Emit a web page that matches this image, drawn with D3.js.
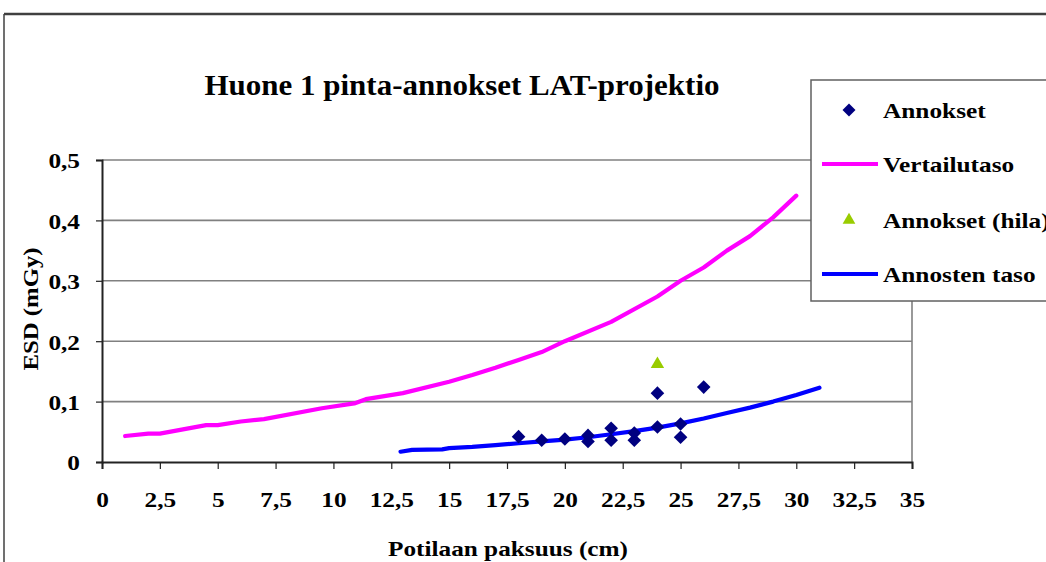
<!DOCTYPE html>
<html>
<head>
<meta charset="utf-8">
<script src="https://cdn.jsdelivr.net/npm/d3@7"></script>
<style>
  html, body { margin: 0; padding: 0; background: #fff; }
  svg { display: block; }
  svg text { font-family: "Liberation Serif", "Times New Roman", serif; font-weight: bold; fill: #000; }
</style>
</head>
<body>
<svg id="chart" width="1046" height="562"></svg>
<script>
// Axis ticks
const xTicks = [0, 2.5, 5, 7.5, 10, 12.5, 15, 17.5, 20, 22.5, 25, 27.5, 30, 32.5, 35];
const yTicks = [0, 0.1, 0.2, 0.3, 0.4, 0.5];

// Vertailutaso (reference level curve)
const vertailuX = [1, 2, 2.5, 4.5, 5, 6, 7, 9.5, 10.9, 11.4, 13, 15, 16, 17, 18, 19, 20, 22, 24, 25, 26, 27, 28, 29, 30];
const vertailuY = [0.043, 0.047, 0.047, 0.061, 0.061, 0.067, 0.071, 0.089, 0.097, 0.104, 0.114, 0.133, 0.144, 0.156, 0.169, 0.182, 0.2, 0.232, 0.274, 0.3, 0.322, 0.35, 0.374, 0.405, 0.441];

// Annosten taso (dose level curve)
const tasoX = [12.9, 13.4, 14.7, 15, 16, 17, 18, 19, 20, 21, 22, 23, 24, 25, 26, 27, 28, 29, 30, 31];
const tasoY = [0.017, 0.02, 0.021, 0.023, 0.025, 0.028, 0.031, 0.034, 0.037, 0.041, 0.046, 0.051, 0.057, 0.064, 0.072, 0.081, 0.09, 0.1, 0.111, 0.123];

// Annokset (measured doses)
const annoksetX = [18, 19, 20, 21, 21, 22, 22, 23, 23, 24, 24, 25, 25, 26];
const annoksetY = [0.042, 0.036, 0.038, 0.044, 0.034, 0.056, 0.036, 0.048, 0.036, 0.058, 0.114, 0.063, 0.041, 0.124];

// Annokset (hila) (doses with grid)
const hilaX = [24];
const hilaY = [0.162];

const legendLabels = ["Annokset", "Vertailutaso", "Annokset (hila)", "Annosten taso"];

const colors = {
  annokset: "#000080",
  vertailu: "#FF00FF",
  hila: "#99CC00",
  taso: "#0000FF",
  grid: "#808080",
  axis: "#222"
};

const FONT = "Liberation Serif, Times New Roman, serif";
const WIDEN = 1.15; // text is set slightly wide

const svg = d3.select("#chart");

const x = d3.scaleLinear().domain([0, 35]).range([102, 912]);
const y = d3.scaleLinear().domain([0, 0.5]).range([462, 160]);

const fmt = d => String(+d.toFixed(2)).replace(".", ",");

// Widen a text selection horizontally by a factor
function widen(sel, f) {
  sel.each(function () {
    const w = this.getComputedTextLength();
    d3.select(this).attr("textLength", w * f).attr("lengthAdjust", "spacingAndGlyphs");
  });
}

// Chart frame
svg.append("line").attr("x1", 4).attr("x2", 1046).attr("y1", 14).attr("y2", 14)
  .attr("stroke", "#404040").attr("stroke-width", 2.5);
svg.append("line").attr("x1", 4).attr("x2", 4).attr("y1", 14).attr("y2", 562)
  .attr("stroke", "#404040").attr("stroke-width", 1.5);

// Horizontal gridlines
svg.append("g")
  .selectAll("line")
  .data(yTicks.filter(v => v > 0))
  .join("line")
  .attr("x1", x(0)).attr("x2", x(35))
  .attr("y1", d => y(d)).attr("y2", d => y(d))
  .attr("stroke", colors.grid).attr("stroke-width", 1.6);

// Plot area right border
svg.append("line")
  .attr("x1", x(35)).attr("x2", x(35)).attr("y1", y(0.5)).attr("y2", y(0))
  .attr("stroke", colors.grid).attr("stroke-width", 1.6);

// X axis
const xAxis = d3.axisBottom(x).tickValues(xTicks).tickFormat(fmt).tickSize(7);
const gx = svg.append("g").attr("transform", `translate(0,${y(0)})`).call(xAxis);
gx.attr("font-family", FONT);
gx.select(".domain").attr("stroke", colors.axis).attr("stroke-width", 2);
gx.selectAll(".tick line").attr("stroke", colors.axis).attr("stroke-width", 1.2);
gx.selectAll(".tick text")
  .attr("y", 44.5).attr("dy", null)
  .attr("font-size", 22).attr("font-family", FONT).attr("font-weight", "bold")
  .attr("fill", "#000")
  .call(widen, WIDEN);

// Y axis
const yAxis = d3.axisLeft(y).tickValues(yTicks).tickFormat(fmt).tickSize(6).tickPadding(16);
const gy = svg.append("g").attr("transform", `translate(${x(0)},0)`).call(yAxis);
gy.attr("font-family", FONT);
gy.select(".domain").attr("stroke", colors.axis).attr("stroke-width", 2);
gy.selectAll(".tick line").attr("stroke", colors.axis).attr("stroke-width", 1.2);
gy.selectAll(".tick text")
  .attr("dy", "0.36em")
  .attr("font-size", 22).attr("font-family", FONT).attr("font-weight", "bold")
  .attr("fill", "#000")
  .call(widen, WIDEN);

// Lines
const lineGen = d3.line().x(d => x(d[0])).y(d => y(d[1]));

svg.append("path")
  .datum(vertailuX.map((v, i) => [v, vertailuY[i]]))
  .attr("d", lineGen)
  .attr("fill", "none").attr("stroke", colors.vertailu).attr("stroke-width", 4.2)
  .attr("stroke-linejoin", "round").attr("stroke-linecap", "round");

svg.append("path")
  .datum(tasoX.map((v, i) => [v, tasoY[i]]))
  .attr("d", lineGen)
  .attr("fill", "none").attr("stroke", colors.taso).attr("stroke-width", 4.2)
  .attr("stroke-linejoin", "round").attr("stroke-linecap", "round");

// Markers
const diamond = r => `M0,${-r}L${r},0L0,${r}L${-r},0Z`;

svg.append("g")
  .selectAll("path")
  .data(annoksetX.map((v, i) => [v, annoksetY[i]]))
  .join("path")
  .attr("transform", d => `translate(${x(d[0])},${y(d[1])})`)
  .attr("d", diamond(6.8))
  .attr("fill", colors.annokset);

svg.append("g")
  .selectAll("path")
  .data(hilaX.map((v, i) => [v, hilaY[i]]))
  .join("path")
  .attr("transform", d => `translate(${x(d[0])},${y(d[1])})`)
  .attr("d", d3.symbol(d3.symbolTriangle, 78)())
  .attr("fill", colors.hila);

// Title
svg.append("text")
  .attr("x", 462).attr("y", 95)
  .attr("text-anchor", "middle")
  .attr("font-size", 30)
  .attr("textLength", 515).attr("lengthAdjust", "spacingAndGlyphs")
  .text("Huone 1 pinta-annokset LAT-projektio");

// Axis titles
svg.append("text")
  .attr("x", 508).attr("y", 556)
  .attr("text-anchor", "middle")
  .attr("font-size", 22)
  .attr("textLength", 240).attr("lengthAdjust", "spacingAndGlyphs")
  .text("Potilaan paksuus (cm)");

svg.append("text")
  .attr("transform", "translate(37.5,309) rotate(-90)")
  .attr("text-anchor", "middle")
  .attr("font-size", 22)
  .attr("textLength", 123).attr("lengthAdjust", "spacingAndGlyphs")
  .text("ESD (mGy)");

// Legend
const legend = svg.append("g");
legend.append("rect")
  .attr("x", 811).attr("y", 80).attr("width", 260).attr("height", 221)
  .attr("fill", "#fff").attr("stroke", "#606060").attr("stroke-width", 1.5);

const legendY = [110, 164, 220, 274];

legend.append("path")
  .attr("transform", `translate(849,${legendY[0]})`)
  .attr("d", diamond(6.5)).attr("fill", colors.annokset);
legend.append("line")
  .attr("x1", 822).attr("x2", 878).attr("y1", legendY[1]).attr("y2", legendY[1])
  .attr("stroke", colors.vertailu).attr("stroke-width", 4);
legend.append("path")
  .attr("transform", `translate(849,${legendY[2]})`)
  .attr("d", d3.symbol(d3.symbolTriangle, 70)()).attr("fill", colors.hila);
legend.append("line")
  .attr("x1", 822).attr("x2", 878).attr("y1", legendY[3]).attr("y2", legendY[3])
  .attr("stroke", colors.taso).attr("stroke-width", 4);

legend.selectAll("text.lbl")
  .data(legendLabels)
  .join("text")
  .attr("class", "lbl")
  .attr("x", 883)
  .attr("y", (d, i) => legendY[i] + 7.5)
  .attr("font-size", 22)
  .text(d => d)
  .call(widen, WIDEN);
</script>
</body>
</html>
